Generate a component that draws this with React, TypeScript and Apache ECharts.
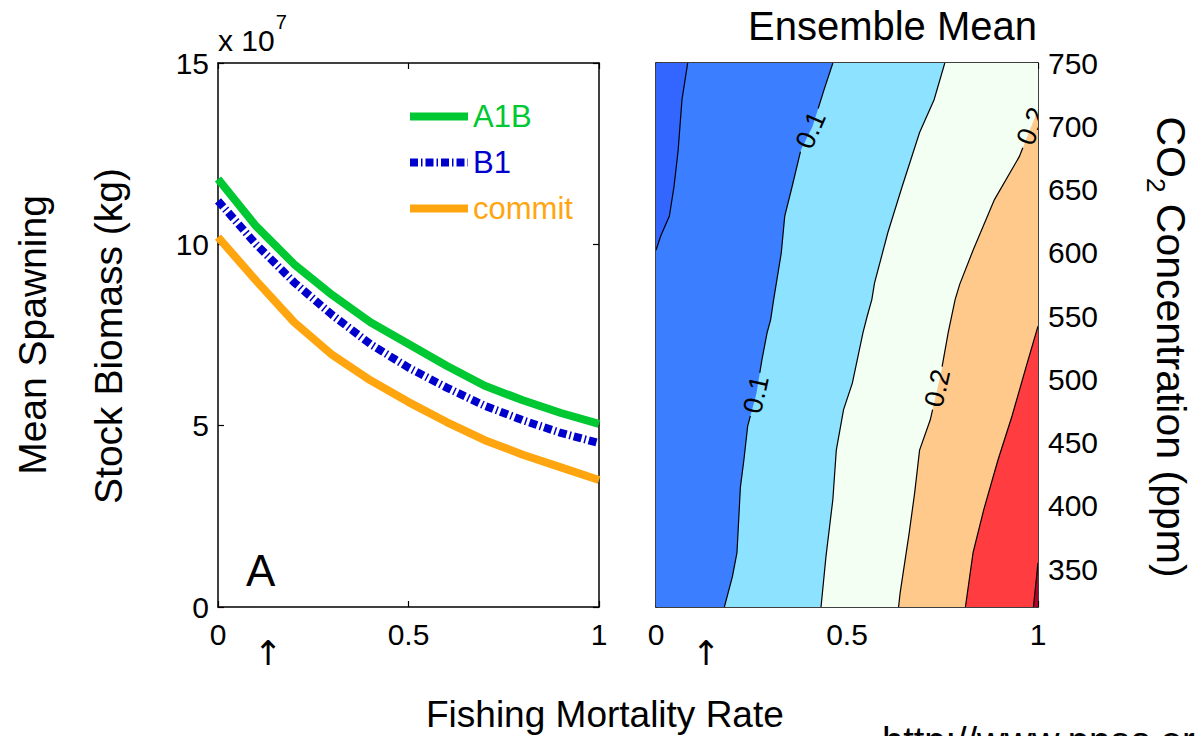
import React, { useEffect, useRef } from "react";
import * as echarts from "echarts";

// ---------------- data ----------------
const FISHING = [0, 0.1, 0.2, 0.3, 0.4, 0.5, 0.6, 0.7, 0.8, 0.9, 1.0];
const A1B = [11.8, 10.5, 9.45, 8.6, 7.85, 7.25, 6.65, 6.1, 5.7, 5.35, 5.05];
const B1 = [11.2, 10.0, 8.95, 8.05, 7.25, 6.6, 6.05, 5.55, 5.15, 4.8, 4.52];
const COMMIT = [10.2, 9.0, 7.85, 6.95, 6.25, 5.65, 5.1, 4.6, 4.2, 3.85, 3.5];
const SERIES_NAMES = ["A1B", "B1", "commit"];

const BIOMASS_MIN = 0;
const BIOMASS_MAX = 15;
const BIOMASS_STEP = 5;
const F_MIN = 0;
const F_MAX = 1;
const F_STEP = 0.5;
const CO2_MIN = 320;
const CO2_MAX = 750;
const CO2_TICKS = [350, 400, 450, 500, 550, 600, 650, 700, 750];

// contour lines of the ensemble mean: [fishing rate, CO2 ppm], bottom -> top
const CONTOUR_LEVELS = [0.05, 0.1, 0.15, 0.2, 0.25, 0.3];
const CONTOUR_005: [number, number][] = [
  [0, 602], [0.012, 613], [0.035, 629], [0.047, 652], [0.058, 681], [0.068, 721], [0.083, 750],
];
const CONTOUR_010: [number, number][] = [
  [0.179, 320], [0.2, 344], [0.212, 363], [0.221, 415], [0.23, 436], [0.24, 463], [0.263, 489],
  [0.277, 515], [0.291, 537], [0.3, 547], [0.308, 563], [0.328, 600], [0.337, 629], [0.356, 652],
  [0.379, 681], [0.41, 700], [0.44, 729], [0.463, 750],
];
const CONTOUR_015: [number, number][] = [
  [0.432, 320], [0.445, 360], [0.463, 405], [0.472, 444], [0.491, 476], [0.514, 497], [0.542, 537],
  [0.553, 550], [0.565, 563], [0.572, 576], [0.607, 616], [0.644, 652], [0.69, 695], [0.728, 721],
  [0.756, 750],
];
const CONTOUR_020: [number, number][] = [
  [0.635, 320], [0.639, 331], [0.663, 379], [0.677, 410], [0.69, 444], [0.718, 468], [0.746, 505],
  [0.765, 537], [0.783, 563], [0.795, 575], [0.83, 602], [0.886, 642], [0.951, 676], [1, 713],
];
const CONTOUR_025: [number, number][] = [
  [0.81, 320], [0.83, 363], [0.858, 397], [0.895, 436], [0.932, 471], [0.969, 510], [1, 542],
];
const CONTOUR_030: [number, number][] = [
  [0.988, 320], [1, 355],
];
const CONTOUR_LINES = [CONTOUR_005, CONTOUR_010, CONTOUR_015, CONTOUR_020, CONTOUR_025, CONTOUR_030];
const BAND_COLORS = ["#3366FF", "#3B7EFF", "#8CE2FF", "#F3FFF3", "#FFC98C", "#FF3C3F", "#B0002A"];
// labelled contours: index into CONTOUR_LINES and CO2 position of the label
const CONTOUR_LABELS = [
  { line: 1, y: 697 },
  { line: 1, y: 488 },
  { line: 3, y: 493 },
  { line: 3, y: 700 },
];

// ---------------- helpers ----------------
const FONT = '"Liberation Sans", Arial, Helvetica, sans-serif';

function ix(pts: [number, number][], y: number): number {
  for (let j = 0; j < pts.length - 1; j++) {
    const a = pts[j], b = pts[j + 1];
    if (y >= a[1] && y <= b[1]) {
      const t = (y - a[1]) / (b[1] - a[1] || 1);
      return a[0] + t * (b[0] - a[0]);
    }
  }
  if (y < pts[0][1]) {
    const c = pts[0], d = pts[1];
    return c[0] + ((y - c[1]) / (d[1] - c[1])) * (d[0] - c[0]);
  }
  const a = pts[pts.length - 2], b = pts[pts.length - 1];
  return a[0] + ((y - a[1]) / (b[1] - a[1])) * (b[0] - a[0]);
}

function cut(segs: [number, number][][], lo: number, hi: number) {
  const out: [number, number][][] = [];
  for (const s of segs) {
    const y0 = s[0][1], y1 = s[s.length - 1][1];
    if (hi <= y0 || lo >= y1) { out.push(s); continue; }
    if (lo > y0) out.push([...s.filter((p) => p[1] < lo), [ix(s, lo), lo]]);
    if (hi < y1) out.push([[ix(s, hi), hi], ...s.filter((p) => p[1] > hi)]);
  }
  return out;
}

function fmt(v: number) {
  return String(Math.round(v * 100) / 100);
}

export default function App() {
  const ref = useRef<HTMLDivElement>(null);

  useEffect(() => {
    if (!ref.current) return;
    const chart = echarts.init(ref.current, null, { renderer: "svg" });

    const ctx = document.createElement("canvas").getContext("2d")!;
    const measure = (t: string, size: number) => {
      ctx.font = `${size}px ${FONT}`;
      return ctx.measureText(t).width;
    };

    const axisCommon = {
      axisLine: { show: true, onZero: false, lineStyle: { color: "#000", width: 1.5 } },
      axisTick: { show: true, inside: true, length: 6, lineStyle: { color: "#000", width: 1.2 } },
      splitLine: { show: false },
    };
    const labelStyle = { color: "#000", fontSize: 30, fontFamily: FONT };

    const xBase = (gridIndex: number, position: "top" | "bottom", showLabel: boolean) => ({
      type: "value",
      gridIndex,
      position,
      min: F_MIN,
      max: F_MAX,
      interval: F_STEP,
      ...axisCommon,
      axisLabel: { show: showLabel, margin: 12, ...labelStyle },
    });

    const co2Y = (position: "left" | "right", showLabel: boolean) => ({
      type: "value",
      gridIndex: 1,
      position,
      min: CO2_MIN,
      max: CO2_MAX,
      ...axisCommon,
      axisTick: { ...axisCommon.axisTick, customValues: CO2_TICKS },
      axisLabel: { show: showLabel, margin: 10, customValues: CO2_TICKS, ...labelStyle },
    });

    const renderBands = (params: any, api: any) => {
      const k = params.dataIndex;
      let poly: [number, number][];
      let color: string;
      if (k === 0) {
        poly = [[F_MIN, CO2_MIN], [F_MAX, CO2_MIN], [F_MAX, CO2_MAX], [F_MIN, CO2_MAX]];
        color = BAND_COLORS[BAND_COLORS.length - 1];
      } else {
        const L = CONTOUR_LINES.length - k;
        const pts = CONTOUR_LINES[L];
        poly = [...pts];
        const first = pts[0], last = pts[pts.length - 1];
        if (last[0] >= F_MAX && last[1] < CO2_MAX) poly.push([F_MAX, CO2_MAX]);
        poly.push([F_MIN, CO2_MAX]);
        if (first[1] <= CO2_MIN) poly.push([F_MIN, CO2_MIN]);
        color = BAND_COLORS[L];
      }
      return {
        type: "polygon",
        shape: { points: poly.map((p) => api.coord(p)) },
        style: { fill: color, stroke: null },
      };
    };

    const renderLines = (params: any, api: any) => {
      const i = params.dataIndex;
      const pts = CONTOUR_LINES[i];
      let segs: [number, number][][] = [pts];
      const labels = CONTOUR_LABELS.filter((l) => l.line === i);
      for (const l of labels) segs = cut(segs, l.y - 17, l.y + 17);
      const children: any[] = segs
        .filter((s) => s.length >= 2)
        .map((s) => ({
          type: "polyline",
          shape: { points: s.map((p) => api.coord(p)) },
          style: { stroke: "#000", lineWidth: 1.2, fill: null },
        }));
      for (const l of labels) {
        const c = api.coord([ix(pts, l.y), l.y]);
        const p1 = api.coord([ix(pts, l.y - 8), l.y - 8]);
        const p2 = api.coord([ix(pts, l.y + 8), l.y + 8]);
        const ang = Math.atan2(-(p2[1] - p1[1]), p2[0] - p1[0]);
        children.push({
          type: "text",
          x: c[0],
          y: c[1],
          rotation: ang,
          style: {
            text: fmt(CONTOUR_LEVELS[i]),
            fill: "#000",
            fontSize: 27,
            fontFamily: FONT,
            align: "center",
            verticalAlign: "middle",
            textAlign: "center",
            textVerticalAlign: "middle",
          },
        });
      }
      return { type: "group", children };
    };

    const txt = (text: string, x: number, y: number, size: number, align = "left", extra: any = {}, family = FONT) => ({
      type: "text",
      x,
      y,
      ...extra,
      style: {
        text,
        fill: "#000",
        fontSize: size,
        fontFamily: family,
        align,
        textAlign: align,
        verticalAlign: "middle",
        textVerticalAlign: "middle",
      },
    });

    // rotated CO2 title with subscript
    const TT = 41, TS = 26;
    const wCO = measure("CO", TT);
    const w2 = measure("2", TS);
    const wRest = measure(" Concentration (ppm)", TT);
    const x0 = -(wCO + w2 + wRest) / 2;

    const option: any = {
      animation: false,
      backgroundColor: "#fff",
      grid: [
        { left: 218, top: 63, width: 381, height: 544, containLabel: false },
        { left: 656, top: 63, width: 382, height: 544, containLabel: false },
      ],
      xAxis: [
        xBase(0, "bottom", true),
        xBase(0, "top", false),
        xBase(1, "bottom", true),
        xBase(1, "top", false),
      ],
      yAxis: [
        {
          type: "value",
          gridIndex: 0,
          position: "left",
          min: BIOMASS_MIN,
          max: BIOMASS_MAX,
          interval: BIOMASS_STEP,
          ...axisCommon,
          axisLabel: { margin: 9, ...labelStyle },
        },
        {
          type: "value",
          gridIndex: 0,
          position: "right",
          min: BIOMASS_MIN,
          max: BIOMASS_MAX,
          interval: BIOMASS_STEP,
          ...axisCommon,
          axisLabel: { show: false },
        },
        co2Y("right", true),
        co2Y("left", false),
      ],
      legend: {
        orient: "vertical",
        left: 406,
        top: 101,
        padding: 0,
        itemWidth: 58,
        itemHeight: 30,
        itemGap: 15,
        lineStyle: { width: "inherit" },
        itemStyle: { opacity: 0 },
        textStyle: { fontSize: 31, fontFamily: FONT },
        data: [
          { name: SERIES_NAMES[0], textStyle: { color: "#00C832" } },
          { name: SERIES_NAMES[1], textStyle: { color: "#0000CC" } },
          { name: SERIES_NAMES[2], textStyle: { color: "#FFA50F" } },
        ],
      },
      series: [
        {
          name: SERIES_NAMES[0],
          type: "line",
          xAxisIndex: 0,
          yAxisIndex: 0,
          data: FISHING.map((f, i) => [f, A1B[i]]),
          symbol: "none",
          lineStyle: { color: "#00C832", width: 8 },
          itemStyle: { color: "#00C832" },
        },
        {
          name: SERIES_NAMES[1],
          type: "line",
          xAxisIndex: 0,
          yAxisIndex: 0,
          data: FISHING.map((f, i) => [f, B1[i]]),
          symbol: "none",
          lineStyle: { color: "#0000CC", width: 8, type: [8, 3, 1.5, 3], cap: "butt" },
          itemStyle: { color: "#0000CC" },
        },
        {
          name: SERIES_NAMES[2],
          type: "line",
          xAxisIndex: 0,
          yAxisIndex: 0,
          data: FISHING.map((f, i) => [f, COMMIT[i]]),
          symbol: "none",
          lineStyle: { color: "#FFA50F", width: 8 },
          itemStyle: { color: "#FFA50F" },
        },
        {
          type: "custom",
          xAxisIndex: 2,
          yAxisIndex: 2,
          clip: true,
          silent: true,
          z: 1,
          data: BAND_COLORS.map(() => [0.5, 500]),
          renderItem: renderBands,
        },
        {
          type: "custom",
          xAxisIndex: 2,
          yAxisIndex: 2,
          clip: true,
          silent: true,
          z: 2,
          data: CONTOUR_LINES.map(() => [0.5, 500]),
          renderItem: renderLines,
        },
      ],
      graphic: [
        txt("x 10", 218, 40, 30),
        txt("7", 218 + measure("x 10", 30) + 1, 22, 20),
        txt("A", 246, 570, 44),
        txt("B", 687, 151, 44),
        txt("Ensemble Mean", 1037, 26, 40, "right"),
        txt("Fishing Mortality Rate", 426, 714, 37),
        txt("↑", 268, 653, 34, "center", {}, '"DejaVu Sans", sans-serif'),
        txt("↑", 706, 653, 34, "center", {}, '"DejaVu Sans", sans-serif'),
        txt("Mean Spawning", 32, 335, 39, "center", { rotation: Math.PI / 2 }),
        txt("Stock Biomass (kg)", 108, 336, 39, "center", { rotation: Math.PI / 2 }),
        {
          type: "group",
          x: 1171,
          y: 347,
          rotation: -Math.PI / 2,
          children: [
            txt("CO", x0, 0, TT),
            txt("2", x0 + wCO, 15, TS),
            txt(" Concentration (ppm)", x0 + wCO + w2, 0, TT),
          ],
        },
        {
          type: "text",
          x: 882,
          y: 722,
          style: {
            text: "http://www.pnas.org",
            fill: "#000",
            fontSize: 38,
            fontFamily: FONT,
            verticalAlign: "top",
            textVerticalAlign: "top",
          },
        },
      ],
    };

    chart.setOption(option);
    return () => chart.dispose();
  }, []);

  return (
    <div
      ref={ref}
      style={{ position: "fixed", left: 0, top: 0, width: 1195, height: 736, background: "#fff" }}
    />
  );
}
